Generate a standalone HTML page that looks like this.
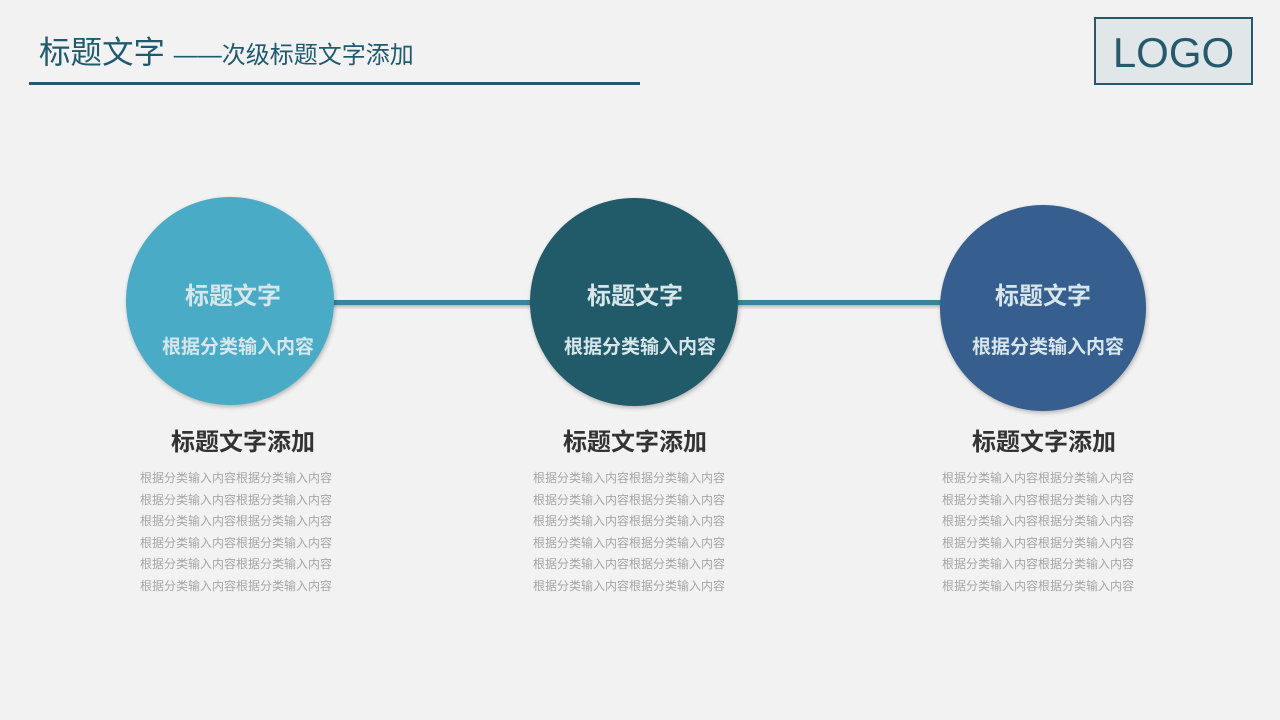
<!DOCTYPE html>
<html><head><meta charset="utf-8"><style>
body{margin:0;width:1280px;height:720px;background:#f2f2f2;position:relative;overflow:hidden;font-family:"Liberation Sans","Noto Sans CJK SC",sans-serif}
.a{position:absolute}
.c{position:absolute;border-radius:50%;box-shadow:1px 2px 4px rgba(0,0,0,.25)}
.t1{position:absolute;width:300px;text-align:center;font-weight:bold;font-size:24px;color:#d6e6ea}
.t2{position:absolute;width:300px;text-align:center;font-weight:bold;font-size:19px;color:#d6e6ea}
.h{position:absolute;width:300px;text-align:center;font-weight:bold;font-size:24px;color:#333}
.p{position:absolute;width:260px;text-align:center;font-size:12px;line-height:21.6px;color:#a6a6a6}
</style></head><body>
<div class="a" style="left:39px;top:27px;font-size:31.5px;color:#1f5a6e">标题文字 <span style="font-size:24px">——次级标题文字添加</span></div>
<div class="a" style="left:29px;top:82px;width:611px;height:3px;background:#255a6e"></div>
<div class="a" style="left:1094px;top:17px;width:155px;height:64px;border:2px solid #255a6e;background:#e1e6e8;color:#255a6e;font-size:42px;text-align:center;line-height:68px">LOGO</div>

<div class="a" style="left:330px;top:300px;width:620px;height:5px;background:#3a8599;box-shadow:0 2px 3px rgba(0,0,0,.25)"></div>

<div class="c" style="left:126px;top:197px;width:208px;height:208px;background:#4aabc6"></div>
<div class="c" style="left:530px;top:198px;width:208px;height:208px;background:#215b69"></div>
<div class="c" style="left:940px;top:205px;width:206px;height:206px;background:#365e8e"></div>

<div class="t1" style="left:83px;top:276px">标题文字</div>
<div class="t2" style="left:88px;top:332px">根据分类输入内容</div>
<div class="t1" style="left:485px;top:276px">标题文字</div>
<div class="t2" style="left:490px;top:332px">根据分类输入内容</div>
<div class="t1" style="left:893px;top:276px">标题文字</div>
<div class="t2" style="left:898px;top:332px">根据分类输入内容</div>

<div class="h" style="left:93px;top:422px">标题文字添加</div>
<div class="h" style="left:485px;top:422px">标题文字添加</div>
<div class="h" style="left:894px;top:422px">标题文字添加</div>

<div class="p" style="left:106px;top:468px">根据分类输入内容根据分类输入内容<br>根据分类输入内容根据分类输入内容<br>根据分类输入内容根据分类输入内容<br>根据分类输入内容根据分类输入内容<br>根据分类输入内容根据分类输入内容<br>根据分类输入内容根据分类输入内容</div>
<div class="p" style="left:499px;top:468px">根据分类输入内容根据分类输入内容<br>根据分类输入内容根据分类输入内容<br>根据分类输入内容根据分类输入内容<br>根据分类输入内容根据分类输入内容<br>根据分类输入内容根据分类输入内容<br>根据分类输入内容根据分类输入内容</div>
<div class="p" style="left:908px;top:468px">根据分类输入内容根据分类输入内容<br>根据分类输入内容根据分类输入内容<br>根据分类输入内容根据分类输入内容<br>根据分类输入内容根据分类输入内容<br>根据分类输入内容根据分类输入内容<br>根据分类输入内容根据分类输入内容</div>
</body></html>
